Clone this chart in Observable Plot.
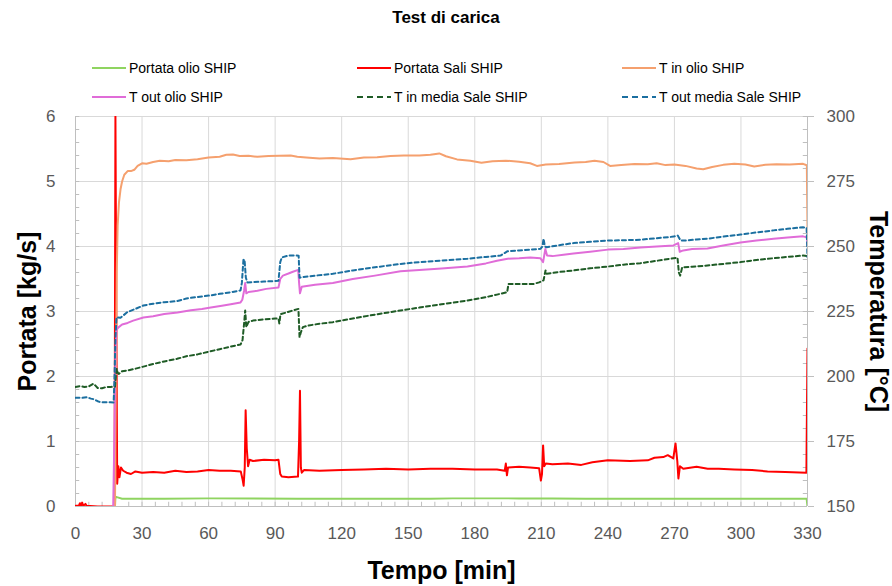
<!DOCTYPE html>
<html>
<head>
<meta charset="utf-8">
<script src="https://cdn.jsdelivr.net/npm/d3@7"></script>
<script src="https://cdn.jsdelivr.net/npm/@observablehq/plot@0.6"></script>
<style>
  html, body { margin: 0; padding: 0; background: #fff; }
  #wrap { position: relative; width: 892px; height: 586px; font-family: "Liberation Sans", Arial, sans-serif; }
  #chart { position: absolute; left: 0; top: 0; }
  #title { position: absolute; left: 0; width: 892px; top: 8px; text-align: center; font-weight: bold; font-size: 17px; color: #000; }
  .leg { position: absolute; display: flex; align-items: center; font-size: 14px; color: #000; white-space: nowrap; }
  .leg svg { margin-right: 3px; }
</style>
</head>
<body>
<div id="wrap">
  <div id="chart"></div>
  <div id="title">Test di carica</div>
  <div id="legend"></div>
</div>
<script>
// ---- tick labels / axes ----
const xTicks = [0, 30, 60, 90, 120, 150, 180, 210, 240, 270, 300, 330];
const yTicks = [0, 1, 2, 3, 4, 5, 6];
const tempTicks = [150, 175, 200, 225, 250, 275, 300];
const xMinor = d3.range(0, 331, 6);
const yMinor = d3.range(0, 6.01, 0.2);

// ---- series names & colours ----
const seriesNames = ["Portata olio SHIP", "Portata Sali SHIP", "T in olio SHIP", "T out olio SHIP", "T in media Sale SHIP", "T out media Sale SHIP"];
const seriesColors = ["#8fd460", "#ff0000", "#f5a06e", "#e06cd8", "#1f5c26", "#1b6fa0"];
const seriesDashed = [false, false, false, false, true, true];

// ---- data: [minutes, value] ----
// Portata olio SHIP [kg/s]
const portataOlio = [[17.8,0],[18,0.15],[19,0.14],[21,0.12],[40,0.12],[60,0.125],[100,0.12],[160,0.12],[170,0.125],[200,0.125],[215,0.125],[230,0.12],[270,0.12],[329.6,0.12],[330,0]];
// Portata Sali SHIP [kg/s]
const portataSali = [[0,0.01],[1.5,0.01],[2,0.05],[2.5,0.01],[3,0.06],[3.5,0.01],[4.5,0.04],[5,0.01],[10,0],[17.6,0],[18,6],[18.4,3],[18.8,0.35],[19.3,0.62],[19.8,0.45],[20.5,0.6],[21.5,0.55],[23,0.52],[25,0.5],[27,0.54],[30,0.52],[35,0.53],[40,0.52],[45,0.55],[50,0.53],[55,0.54],[60,0.56],[65,0.55],[70,0.55],[74.5,0.54],[75.3,0.42],[75.8,0.32],[76.3,0.6],[76.7,1.48],[77.2,0.9],[77.8,0.62],[78.5,0.72],[80,0.7],[85,0.72],[90,0.71],[91.5,0.72],[92.3,0.5],[93,0.46],[96,0.45],[100.3,0.46],[100.8,1.0],[101.2,1.78],[101.6,0.6],[102,0.52],[103,0.56],[110,0.55],[120,0.56],[130,0.57],[140,0.58],[150,0.57],[160,0.58],[170,0.58],[180,0.57],[190,0.57],[193.5,0.55],[194,0.66],[194.5,0.48],[195,0.6],[200,0.61],[205,0.6],[209,0.59],[209.8,0.4],[210.3,0.5],[210.8,0.94],[211.3,0.62],[212,0.66],[215,0.65],[222,0.66],[228,0.64],[233,0.68],[240,0.71],[250,0.7],[258,0.71],[261,0.75],[265,0.76],[267,0.79],[269.5,0.74],[270.5,0.97],[271.3,0.7],[271.8,0.43],[272.5,0.62],[274,0.58],[280,0.61],[285,0.58],[290,0.58],[297,0.57],[305,0.56],[312,0.54],[320,0.53],[329.5,0.52],[330,2.43]];
// T in olio SHIP [°C]
const tInOlio = [[17.8,150],[18.2,200],[18.6,240],[19,258],[19.6,267],[20.3,272],[21,275],[22,277.6],[23.5,279],[25,279],[26.5,279.5],[28,281],[30,282],[32,281.8],[35,282.5],[38,283],[42,282.8],[45,283.3],[50,283.2],[55,283.6],[60,284.2],[65,284.5],[68,285.3],[71,285.4],[74,284.8],[78,284.9],[82,284.5],[87,284.8],[92,284.9],[97,285],[100,284.5],[104,284.2],[110,283.8],[116,284],[124,283.6],[130,284.2],[136,284.3],[142,284.8],[148,285],[155,285],[160,285.3],[164,285.8],[167,284.7],[172,283.5],[178,283],[183,282.2],[188,282.8],[194,283],[200,282.6],[205,282],[208,281],[212,281.5],[218,281.7],[225,282.3],[230,282.5],[234,283],[238,282.5],[241,281],[246,281.3],[252,281.7],[258,281.6],[262,282],[266,281.3],[270,281.5],[275,281],[280,280],[283,279.7],[287,280.6],[292,281.4],[297,281.8],[302,281.5],[306,280.8],[311,281.4],[316,281.6],[322,281.5],[328,281.8],[329.7,281.2],[330,257]];
// T out olio SHIP [°C]
const tOutOlio = [[17,150],[17.5,175],[18,210],[18.5,218],[19.5,219],[21,220],[23.5,220.6],[26,221.5],[30.6,222.7],[35,223.2],[40,224],[46,224.6],[52,225.5],[57,226],[61,226.5],[66,227.2],[70,227.8],[74.4,228.5],[75.2,229.5],[76,233],[76.5,236],[77,232],[78,232.5],[82,233],[86,233.7],[91.5,234.2],[92.3,237.5],[93.5,238.8],[96,239.6],[98,240.3],[100.4,241],[100.8,236],[101.2,232],[102,234.5],[108,235.3],[116,236],[125,237.5],[135,238.8],[146.5,240.5],[155,241],[165,241.5],[176.7,242.3],[185,243.5],[190,244.5],[194.8,245.3],[200,245.5],[205,245.8],[209.6,245.5],[210.8,244],[211.8,249],[212.6,246.5],[215,246.3],[220,246.8],[224.5,247.3],[232,248],[240,248.8],[247,249],[254.7,249.6],[262,250],[269.6,250.4],[271.7,251.3],[272.4,248],[274,248.5],[278,249],[284.9,249.2],[292,250.4],[299.8,251.5],[307,252.3],[314.7,253],[321,253.5],[328,253.9],[329.7,253.5],[330,250.4]];
// T in media Sale SHIP [°C]
const tInSale = [[0,196],[2,196.3],[4,196],[6,196.2],[8,197.2],[9,196.5],[10,195.6],[12,195.5],[14,196],[16,196],[17.8,196.1],[18.2,200],[18.6,203],[19,201.5],[19.5,201],[21,202],[23.3,202.3],[27,203],[30.6,203.8],[35,204.8],[40,205.8],[45.8,206.8],[50,207.8],[55,208.5],[60.9,209.7],[65,210.5],[70,211.5],[74.4,212.3],[75.3,214],[76,220.3],[76.5,225.4],[77,219],[78,221],[80,221.5],[85,222],[90,222.3],[91.5,222.3],[91.9,220.4],[92.4,224],[95,224.6],[98,225.4],[100.5,226],[101,215.1],[101.6,217],[102.5,219],[105,219.6],[110,220.3],[116,220.9],[125,222.3],[135,223.8],[146.5,225.4],[155,226.5],[165,227.8],[176.6,229.2],[185,230.5],[190,231.5],[194.6,232.4],[195.2,235.6],[200,235.6],[206.5,235.6],[209,236.2],[211,237],[211.9,240.8],[212.5,239.5],[218,240.2],[224.5,240.8],[232,241.6],[240,242.3],[247,243],[254.7,243.6],[262,244.5],[271.4,245.7],[272,240],[272.6,238.8],[273.5,242],[278,242.2],[284.9,242.7],[292,243.3],[299.8,244],[307,244.8],[314.7,245.5],[321,246],[328,246.5],[330,246.3]];
// T out media Sale SHIP [°C]
const tOutSale = [[0,191.8],[3,191.8],[5,192],[7,191.5],[8.5,191.2],[10,190.5],[11.3,190.1],[15.8,190.1],[17.2,190],[17.6,200],[18,215],[18.5,222.8],[20.3,222.6],[23.3,224.7],[27,226],[30.6,227.3],[35,228],[40,228.6],[45.8,229],[50,230],[55,230.6],[60.9,231.2],[65,231.8],[70,232.4],[74.4,233.1],[75,236],[75.7,244.8],[76.2,245],[76.8,238],[77.5,236.2],[80,236.3],[85,236.5],[91.5,236.8],[92.3,244],[93,245.8],[96,246.5],[99,246.6],[100.6,246.4],[101,238],[102,238.2],[108,238.8],[116,239.5],[125,240.8],[135,242],[146.5,243.3],[155,244],[165,244.6],[176.7,245.3],[185,246],[191.6,246.5],[194.8,248.2],[200,248.5],[205,248.8],[209.6,249.1],[210.5,250],[211,253],[211.6,250],[212.4,249.7],[218,250.5],[224.5,251.3],[232,251.8],[240,252.3],[247,252.4],[254.7,252.6],[262,253.2],[269.6,253.8],[271.5,254.2],[272.8,252.3],[275,252.3],[280,252.7],[284.9,253],[292,253.8],[299.8,254.6],[307,255.4],[314.7,256.2],[321,256.8],[328,257.4],[329.6,257.2],[330,245.9]];

// temperature (right axis, 150..300 °C) shares the left 0..6 kg/s scale
const tempMin = 150, tempPerUnit = 25;
const toLeft = T => (T - tempMin) / tempPerUnit;

const seriesData = [portataOlio, portataSali, tInOlio, tOutOlio, tInSale, tOutSale];
const isTemp = [false, false, true, true, true, true];

const grid = "#d9d9d9", axisGray = "#bfbfbf", tickText = "#595959";

const lineMarks = seriesData.map((data, i) => Plot.line(data, {
  x: d => d[0],
  y: d => isTemp[i] ? toLeft(d[1]) : d[1],
  stroke: seriesColors[i],
  strokeWidth: 2,
  strokeDasharray: seriesDashed[i] ? "4,3" : null,
  curve: "linear",
  clip: true
}));

const chart = Plot.plot({
  width: 892,
  height: 586,
  marginTop: 116,
  marginBottom: 80,
  marginLeft: 75,
  marginRight: 85,
  x: { domain: [0, 330] },
  y: { domain: [0, 6] },
  style: { fontFamily: '"Liberation Sans", Arial, sans-serif', fontSize: "17px", background: "transparent", color: tickText, overflow: "visible" },
  marks: [
    Plot.gridY(yTicks, { stroke: grid, strokeOpacity: 1, strokeWidth: 1 }),
    Plot.gridX(xTicks, { stroke: grid, strokeOpacity: 1, strokeWidth: 1 }),
    Plot.ruleY(yMinor, { y: d => d, x1: 0, x2: 1.9, stroke: axisGray }),
    Plot.ruleY(yMinor, { y: d => d, x1: 328.1, x2: 330, stroke: axisGray }),
    Plot.ruleX(xMinor, { x: d => d, y1: 0, y2: 0.065, stroke: axisGray }),
    Plot.ruleX([0, 330], { stroke: axisGray }),
    Plot.ruleY([0], { stroke: axisGray }),
    ...lineMarks,
    Plot.axisX({ ticks: xTicks, tickFormat: d => String(d), tickSize: 0, tickPadding: 20, label: null, fill: tickText, fontSize: 17 }),
    Plot.axisY({ anchor: "left", ticks: yTicks, tickFormat: d => String(d), tickSize: 0, tickPadding: 20, label: null, fill: tickText, fontSize: 17 }),
    Plot.axisY({ anchor: "right", ticks: yTicks, tickFormat: d => String(tempMin + tempPerUnit * d), tickSize: 6, tickPadding: 13, label: null, stroke: axisGray, fill: tickText, fontSize: 17 }),
    Plot.text(["Portata [kg/s]"], { frameAnchor: "left", dx: -48, rotate: -90, textAnchor: "middle", lineAnchor: "middle", fontSize: 25, fontWeight: "bold", fill: "#000" }),
    Plot.text(["Temperatura [°C]"], { frameAnchor: "right", dx: 70, rotate: 90, textAnchor: "middle", lineAnchor: "middle", fontSize: 25, fontWeight: "bold", fill: "#000" }),
    Plot.text(["Tempo [min]"], { frameAnchor: "bottom", dy: 64, textAnchor: "middle", lineAnchor: "middle", fontSize: 25, fontWeight: "bold", fill: "#000" })
  ]
});
document.getElementById("chart").appendChild(chart);

// ---- legend (HTML) ----
const legCols = [92, 357, 622];
const legRows = [68, 97];
const legend = document.getElementById("legend");
seriesNames.forEach((name, i) => {
  const col = i % 3, row = Math.floor(i / 3);
  const div = document.createElement("div");
  div.className = "leg";
  div.style.left = legCols[col] + "px";
  div.style.top = (legRows[row] - 9) + "px";
  div.style.height = "18px";
  const dash = seriesDashed[i] ? 'stroke-dasharray="6,4"' : "";
  div.innerHTML = `<svg width="34" height="10"><line x1="0" y1="5" x2="34" y2="5" stroke="${seriesColors[i]}" stroke-width="2" ${dash}/></svg><span>${name}</span>`;
  legend.appendChild(div);
});
</script>
</body>
</html>
